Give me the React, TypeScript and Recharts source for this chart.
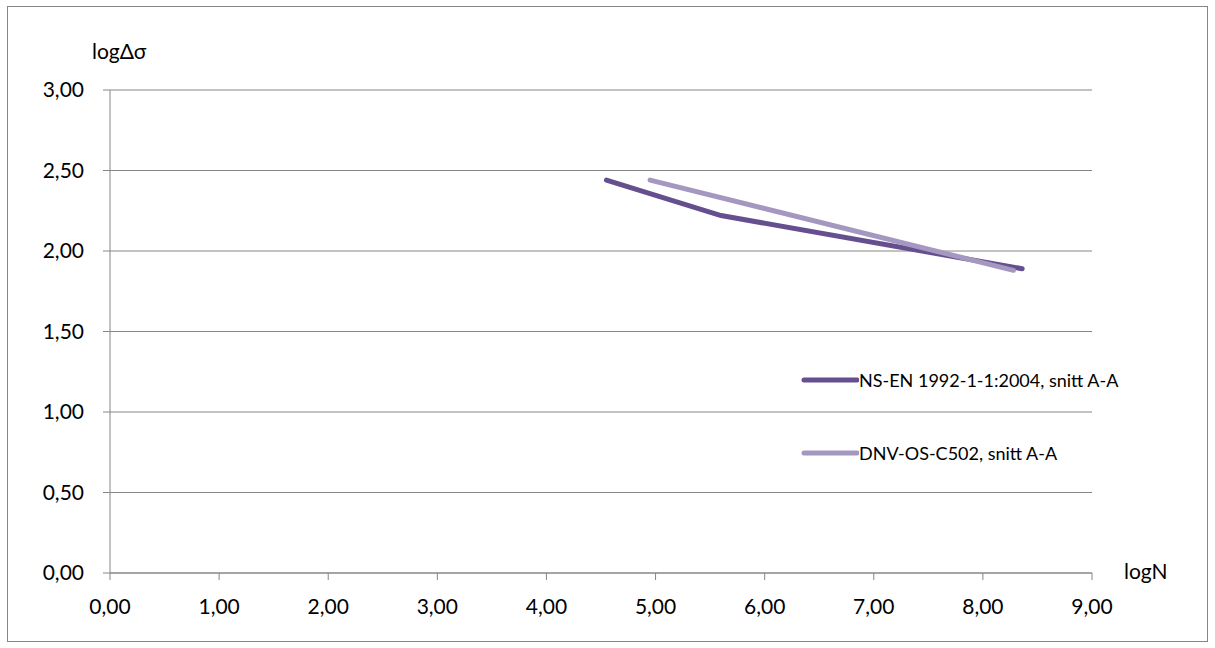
import { LineChart, Line, XAxis, YAxis, CartesianGrid } from "recharts";

// log N values and log stress ranges
const nsEnLogN = [4.55, 5.6, 8.36];
const nsEnLogS = [2.44, 2.22, 1.89];
const dnvLogN = [4.95, 8.28];
const dnvLogS = [2.44, 1.88];

const xTicks = [0, 1, 2, 3, 4, 5, 6, 7, 8, 9];
const yTicks = [0, 0.5, 1, 1.5, 2, 2.5, 3];

const seriesNames = ["NS-EN 1992-1-1:2004, snitt A-A", "DNV-OS-C502, snitt A-A"];
const colors = ["#664f8e", "#a598c0"];

const nsEnData = nsEnLogN.map((x, i) => ({ x, y: nsEnLogS[i] }));
const dnvData = dnvLogN.map((x, i) => ({ x, y: dnvLogS[i] }));

const fmt = (v: number) => v.toFixed(2).replace(".", ",");
const font = "Lato, 'Open Sans', sans-serif";
const axisColor = "#868686";

const LegendBox = () => (
	<div style={{ position: "absolute", left: 800, top: 366, fontFamily: font, fontSize: 18, color: "#000" }}>
		{seriesNames.map((name, i) => (
			<div key={name} style={{ display: "flex", alignItems: "center", height: 28, marginBottom: i === 0 ? 45 : 0 }}>
				<svg width={59} height={10} style={{ display: "block" }}>
					<line x1={4} y1={5} x2={57} y2={5} stroke={colors[i]} strokeWidth={5} strokeLinecap="round" />
				</svg>
				<span style={{ whiteSpace: "nowrap" }}>{name}</span>
			</div>
		))}
	</div>
);

export default function App() {
	return (
		<div style={{ position: "absolute", left: 0, top: 0, width: 1215, height: 648, background: "#fff" }}>
			<div
				style={{
					position: "absolute",
					left: 7,
					top: 6,
					width: 1201,
					height: 636,
					border: `1px solid ${axisColor}`,
					boxSizing: "border-box"
				}}
			/>
			<div style={{ position: "absolute", left: 0, top: 0 }}>
				<LineChart width={1215} height={648} margin={{ top: 90, right: 123, left: 50, bottom: 45 }}>
					<CartesianGrid vertical={false} stroke={axisColor} />
					<XAxis
						type="number"
						dataKey="x"
						domain={[0, 9]}
						ticks={xTicks}
						tickFormatter={fmt}
						height={30}
						stroke={axisColor}
						tickSize={7}
						tickMargin={19}
						tick={{ fill: "#000", fontSize: 21, fontFamily: font }}
						allowDuplicatedCategory={false}
					/>
					<YAxis
						type="number"
						dataKey="y"
						domain={[0, 3]}
						ticks={yTicks}
						tickFormatter={fmt}
						width={60}
						stroke={axisColor}
						tickSize={7}
						tickMargin={19}
						tick={{ fill: "#000", fontSize: 21, fontFamily: font }}
					/>
					<Line
						data={nsEnData}
						dataKey="y"
						name={seriesNames[0]}
						stroke={colors[0]}
						strokeWidth={5}
						strokeLinecap="round"
						dot={false}
						activeDot={false}
						isAnimationActive={false}
					/>
					<Line
						data={dnvData}
						dataKey="y"
						name={seriesNames[1]}
						stroke={colors[1]}
						strokeWidth={5}
						strokeLinecap="round"
						dot={false}
						activeDot={false}
						isAnimationActive={false}
					/>
				</LineChart>
			</div>
			<LegendBox />
			<div style={{ position: "absolute", left: 92, top: 38, fontFamily: font, fontSize: 21 }}>logΔσ</div>
			<div style={{ position: "absolute", left: 1124, top: 558, fontFamily: font, fontSize: 21 }}>logN</div>
		</div>
	);
}
